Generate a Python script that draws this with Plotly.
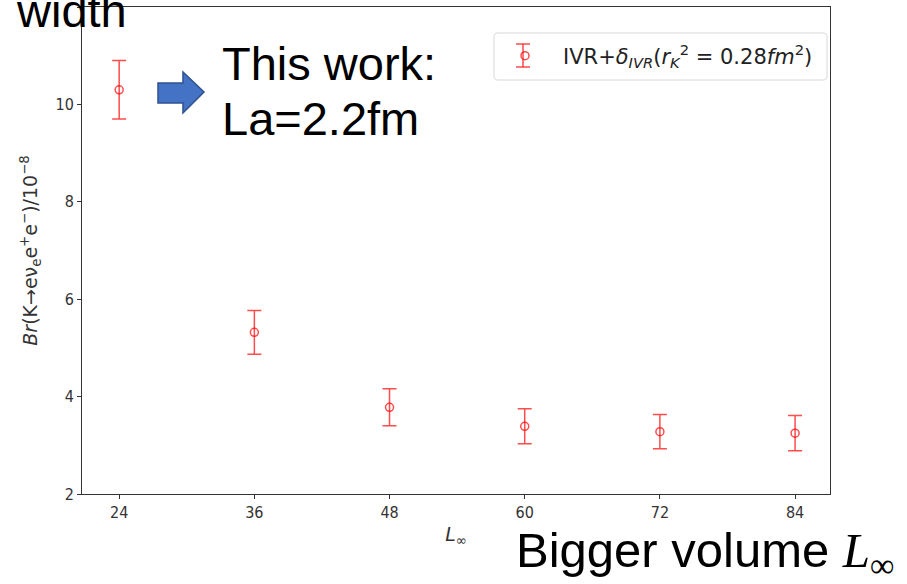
import plotly.graph_objects as go

L_values = [24, 36, 48, 60, 72, 84]
br_values = [10.3, 5.32, 3.78, 3.39, 3.28, 3.25]
br_errors = [0.6, 0.45, 0.38, 0.36, 0.35, 0.36]
x_ticks = [24, 36, 48, 60, 72, 84]
y_ticks = [2, 4, 6, 8, 10, 12]
legend_name = ("IVR+<i>δ</i><sub><i>IVR</i></sub>(<i>r</i><sub><i>K</i></sub><sup>2</sup>"
               " = 0.28<i>fm</i><sup>2</sup>)")

red = "rgba(255,0,0,0.7)"

fig = go.Figure()
fig.add_trace(go.Scatter(
    x=L_values, y=br_values, mode="markers", name=legend_name,
    marker=dict(symbol="circle-open", size=8, color=red, line=dict(width=1.5, color=red)),
    error_y=dict(type="data", array=br_errors, visible=True, color=red, thickness=1.5, width=7),
    showlegend=True,
))

L, R, T, B = 82, 77, 7, 90
W, H = 907, 584
pw, ph = W - L - R, H - T - B

def px(x):
    return (x - L) / pw

def py(y):
    return (H - B - y) / ph

tickfont = dict(family="DejaVu Sans Condensed, DejaVu Sans", size=16, color="#333")
axis_common = dict(showline=True, linecolor="#333", linewidth=1, mirror=True,
                   ticks="outside", ticklen=4, tickcolor="#333", showgrid=False, zeroline=False,
                   tickfont=tickfont)

fig.update_layout(
    width=W, height=H, margin=dict(l=L, r=R, t=T, b=B),
    paper_bgcolor="white", plot_bgcolor="white",
    font=dict(family="DejaVu Sans", color="#333"),
    xaxis=dict(range=[20.7, 87.1], tickvals=x_ticks,
               title=dict(text="<i>L</i><sub>∞</sub>", font=dict(size=19), standoff=6), **axis_common),
    yaxis=dict(range=[2, 12], tickvals=y_ticks,
               title=dict(text="<i>Br</i>(K→eν<sub>e</sub>e<sup>+</sup>e<sup>−</sup>)/10<sup>−8</sup>",
                          font=dict(size=19), standoff=12), **axis_common),
    legend=dict(x=px(487), y=py(56), xanchor="left", yanchor="middle", itemwidth=66,
                bgcolor="rgba(0,0,0,0)", borderwidth=0,
                font=dict(size=21, family="DejaVu Sans", color="#222")),
)

# rounded legend frame
x0, x1, y0, y1, r = 494, 827, 33, 80, 4
frame = [
    ("M", x0 + r, y0), ("L", x1 - r, y0), ("Q", x1, y0, x1, y0 + r), ("L", x1, y1 - r),
    ("Q", x1, y1, x1 - r, y1), ("L", x0 + r, y1), ("Q", x0, y1, x0, y1 - r), ("L", x0, y0 + r),
    ("Q", x0, y0, x0 + r, y0),
]
parts = []
for seg in frame:
    cmd, coords = seg[0], seg[1:]
    pts = " ".join(f"{px(coords[i]):.5f},{py(coords[i + 1]):.5f}" for i in range(0, len(coords), 2))
    parts.append(f"{cmd} {pts}")
fig.add_shape(type="path", xref="paper", yref="paper", path=" ".join(parts) + " Z",
              line=dict(color="#d8d8d8", width=1), fillcolor="rgba(0,0,0,0)", layer="above")

# error-bar glyph for the legend entry
gx, gt, gb, cap = 523, 44, 67, 7
for (xa, ya, xb, yb) in [(gx, gt, gx, gb), (gx - cap, gt, gx + cap, gt), (gx - cap, gb, gx + cap, gb)]:
    fig.add_shape(type="line", xref="paper", yref="paper", x0=px(xa), y0=py(ya), x1=px(xb), y1=py(yb),
                  line=dict(color=red, width=1.5))

# block arrow
xs = [158, 183, 183, 204, 183, 183, 158]
ys = [83, 83, 72, 92, 113, 103, 103]
path = "M " + " L ".join(f"{px(a):.4f},{py(b):.4f}" for a, b in zip(xs, ys)) + " Z"
fig.add_shape(type="path", xref="paper", yref="paper", path=path,
              fillcolor="#4472C4", line=dict(color="#2F528F", width=1.5))

big = dict(family="Arial, Liberation Sans", size=47, color="black")
fig.add_annotation(text="width", xref="paper", yref="paper", x=px(14), y=py(10),
                   xanchor="left", yanchor="middle", showarrow=False, font=big)
fig.add_annotation(text="This work:", xref="paper", yref="paper", x=px(220), y=py(63),
                   xanchor="left", yanchor="middle", showarrow=False, font=big)
fig.add_annotation(text="La=2.2fm", xref="paper", yref="paper", x=px(220), y=py(118),
                   xanchor="left", yanchor="middle", showarrow=False, font=big)
fig.add_annotation(text="Bigger volume <span style='font-family:Liberation Serif'><i>L</i><sub>∞</sub></span>",
                   xref="paper", yref="paper", x=px(514), y=py(553),
                   xanchor="left", yanchor="middle", showarrow=False,
                   font=dict(family="Arial, Liberation Sans", size=49, color="black"))

fig.write_html("out.html", config={"displayModeBar": False},
               post_script="document.body.style.margin='0';")
